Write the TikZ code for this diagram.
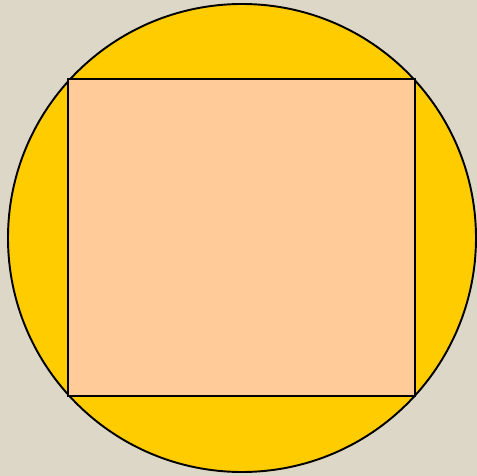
\documentclass[tikz,border=0pt]{standalone}
\usepackage{tikz}
\usepackage{xcolor}
\definecolor{linenbg}{RGB}{221,215,199}
\definecolor{discyellow}{RGB}{255,204,0}
\definecolor{squarepeach}{RGB}{255,204,153}

\begin{document}
\begin{tikzpicture}[x=0.02cm, y=-0.02cm]
    % Background
    \fill[linenbg] (0,0) rectangle (477,476);
    \useasboundingbox (0,0) rectangle (477,476);

    % Circle
    \coordinate (centre) at (242,238);
    \draw[line width=1.1pt, fill=discyellow] (centre) circle (234);

    % Inscribed rectangle
    \draw[line width=1.1pt, fill=squarepeach] (68,79) rectangle (415,396);
\end{tikzpicture}
\end{document}
